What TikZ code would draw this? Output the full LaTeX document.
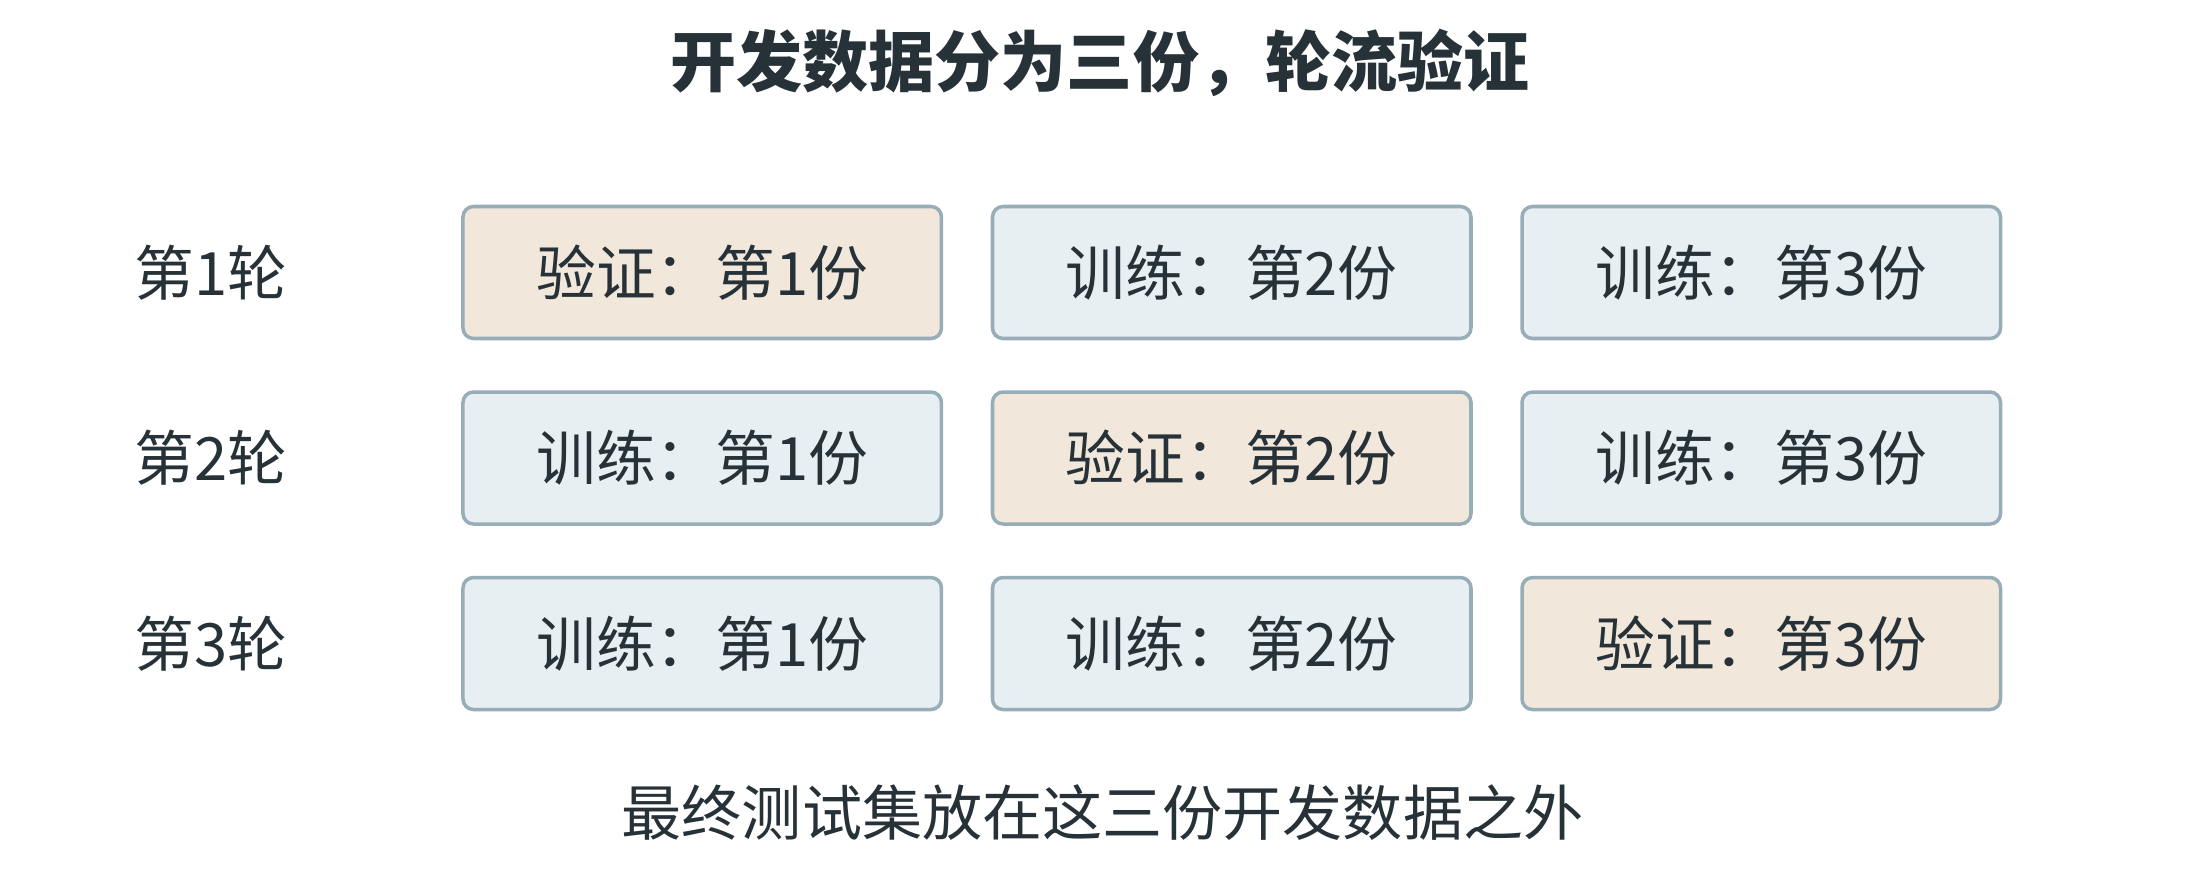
\documentclass[tikz,border=0pt]{standalone}
\usepackage{fontspec}
\usepackage{tikz}
\usetikzlibrary{matrix}
\newfontfamily\cjk{Noto Sans CJK SC}
\definecolor{ink}{HTML}{263238}
\definecolor{edge}{HTML}{97ADB8}
\definecolor{trainfill}{HTML}{E8EFF2}
\definecolor{validfill}{HTML}{F2E7DB}

\begin{document}
\begin{tikzpicture}[thick]
    % `fold' is the common look of the nine boxes.
    % `train' and `valid' only change the fill.
    % `rnd' is used for the round labels on the left.
    \tikzstyle{fold} = [draw=edge,line width=1pt,rounded corners=3pt,
      minimum width=4.785cm,minimum height=1.32cm,inner sep=0pt,
      text=ink,font=\cjk\fontsize{17}{20}\selectfont]
    \tikzstyle{train} = [fold,fill=trainfill]
    \tikzstyle{valid} = [fold,fill=validfill]
    \tikzstyle{rnd} = [minimum width=2cm,inner sep=0pt,text=ink,
      font=\cjk\fontsize{17}{20}\selectfont]
    %
    \useasboundingbox (0,0) rectangle (22,-8.8);
    \node[text=ink,font=\cjk\bfseries\fontsize{18.8}{22}\selectfont]
      (title) at (11.0,-0.63) {开发数据分为三份，轮流验证};
    %
    \matrix[row sep=0.5cm, column sep=0.475cm, inner sep=0pt,
      nodes={anchor=center}] (folds) at (10.565,-4.58) {
      \node[rnd] (r1) {第1轮}; &[1.03cm]
      \node[valid] (f11) {验证：第1份}; &
      \node[train] (f12) {训练：第2份}; &
      \node[train] (f13) {训练：第3份}; \\

      \node[rnd] (r2) {第2轮}; &[1.03cm]
      \node[train] (f21) {训练：第1份}; &
      \node[valid] (f22) {验证：第2份}; &
      \node[train] (f23) {训练：第3份}; \\

      \node[rnd] (r3) {第3轮}; &[1.03cm]
      \node[train] (f31) {训练：第1份}; &
      \node[train] (f32) {训练：第2份}; &
      \node[valid] (f33) {验证：第3份}; \\
    %
  };
    \node[text=ink,font=\cjk\fontsize{17.1}{20}\selectfont]
      (note) at (11.025,-8.13) {最终测试集放在这三份开发数据之外};
\end{tikzpicture}
\end{document}
